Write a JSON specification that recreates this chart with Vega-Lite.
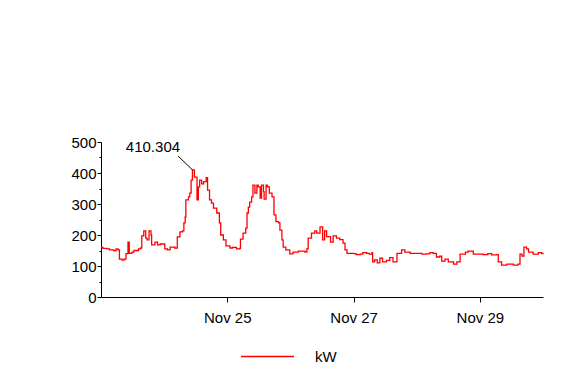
{
  "$schema": "https://vega.github.io/schema/vega-lite/v6.json",
  "width": 442,
  "height": 155,
  "autosize": "none",
  "padding": {"left": 101, "top": 142, "right": 37, "bottom": 83},
  "background": "white",
  "config": {
    "view": {"stroke": null},
    "font": "Liberation Sans",
    "axis": {"grid": false, "domainColor": "black", "tickColor": "black", "labelColor": "black", "labelFont": "Liberation Sans", "labelFontSize": 15, "titleFontSize": 15}
  },
  "datasets": {
    "series": [
      {"t": "2010-11-23T00:00", "kw": 160},
      {"t": "2010-11-23T00:45", "kw": 157},
      {"t": "2010-11-23T02:15", "kw": 155},
      {"t": "2010-11-23T03:15", "kw": 152},
      {"t": "2010-11-23T04:45", "kw": 150},
      {"t": "2010-11-23T05:45", "kw": 155},
      {"t": "2010-11-23T06:30", "kw": 152},
      {"t": "2010-11-23T07:00", "kw": 122},
      {"t": "2010-11-23T08:00", "kw": 119},
      {"t": "2010-11-23T08:45", "kw": 122},
      {"t": "2010-11-23T09:30", "kw": 140},
      {"t": "2010-11-23T10:15", "kw": 177},
      {"t": "2010-11-23T10:45", "kw": 141},
      {"t": "2010-11-23T11:45", "kw": 145},
      {"t": "2010-11-23T12:30", "kw": 150},
      {"t": "2010-11-23T14:15", "kw": 155},
      {"t": "2010-11-23T15:00", "kw": 158},
      {"t": "2010-11-23T15:30", "kw": 197},
      {"t": "2010-11-23T16:15", "kw": 213},
      {"t": "2010-11-23T17:00", "kw": 190},
      {"t": "2010-11-23T17:30", "kw": 184},
      {"t": "2010-11-23T18:15", "kw": 213},
      {"t": "2010-11-23T19:00", "kw": 200},
      {"t": "2010-11-23T19:15", "kw": 168},
      {"t": "2010-11-23T20:30", "kw": 177},
      {"t": "2010-11-23T21:30", "kw": 168},
      {"t": "2010-11-23T22:30", "kw": 171},
      {"t": "2010-11-24T00:15", "kw": 155},
      {"t": "2010-11-24T01:15", "kw": 152},
      {"t": "2010-11-24T02:15", "kw": 161},
      {"t": "2010-11-24T04:00", "kw": 158},
      {"t": "2010-11-24T05:00", "kw": 194},
      {"t": "2010-11-24T06:00", "kw": 210},
      {"t": "2010-11-24T07:00", "kw": 213},
      {"t": "2010-11-24T07:30", "kw": 239},
      {"t": "2010-11-24T08:00", "kw": 258},
      {"t": "2010-11-24T08:15", "kw": 313},
      {"t": "2010-11-24T09:15", "kw": 323},
      {"t": "2010-11-24T09:45", "kw": 335},
      {"t": "2010-11-24T10:15", "kw": 377},
      {"t": "2010-11-24T10:45", "kw": 410.304},
      {"t": "2010-11-24T11:30", "kw": 387},
      {"t": "2010-11-24T12:30", "kw": 313},
      {"t": "2010-11-24T13:00", "kw": 355},
      {"t": "2010-11-24T13:30", "kw": 377},
      {"t": "2010-11-24T14:15", "kw": 365},
      {"t": "2010-11-24T15:00", "kw": 372},
      {"t": "2010-11-24T16:00", "kw": 385},
      {"t": "2010-11-24T16:30", "kw": 345},
      {"t": "2010-11-24T17:15", "kw": 313},
      {"t": "2010-11-24T18:00", "kw": 303},
      {"t": "2010-11-24T18:45", "kw": 287},
      {"t": "2010-11-24T20:00", "kw": 271},
      {"t": "2010-11-24T21:00", "kw": 239},
      {"t": "2010-11-24T21:30", "kw": 200},
      {"t": "2010-11-24T22:30", "kw": 184},
      {"t": "2010-11-24T23:30", "kw": 165},
      {"t": "2010-11-25T01:00", "kw": 158},
      {"t": "2010-11-25T02:00", "kw": 160},
      {"t": "2010-11-25T03:30", "kw": 155},
      {"t": "2010-11-25T04:45", "kw": 157},
      {"t": "2010-11-25T05:00", "kw": 187},
      {"t": "2010-11-25T06:00", "kw": 206},
      {"t": "2010-11-25T07:00", "kw": 222},
      {"t": "2010-11-25T07:30", "kw": 271},
      {"t": "2010-11-25T08:00", "kw": 290},
      {"t": "2010-11-25T08:30", "kw": 306},
      {"t": "2010-11-25T09:15", "kw": 323},
      {"t": "2010-11-25T09:45", "kw": 361},
      {"t": "2010-11-25T10:30", "kw": 335},
      {"t": "2010-11-25T11:15", "kw": 361},
      {"t": "2010-11-25T11:45", "kw": 355},
      {"t": "2010-11-25T12:30", "kw": 319},
      {"t": "2010-11-25T13:00", "kw": 361},
      {"t": "2010-11-25T13:45", "kw": 340},
      {"t": "2010-11-25T14:00", "kw": 316},
      {"t": "2010-11-25T14:45", "kw": 361},
      {"t": "2010-11-25T15:15", "kw": 355},
      {"t": "2010-11-25T16:00", "kw": 335},
      {"t": "2010-11-25T17:00", "kw": 323},
      {"t": "2010-11-25T17:45", "kw": 265},
      {"t": "2010-11-25T18:30", "kw": 243},
      {"t": "2010-11-25T19:30", "kw": 239},
      {"t": "2010-11-25T20:00", "kw": 216},
      {"t": "2010-11-25T20:45", "kw": 184},
      {"t": "2010-11-25T21:15", "kw": 161},
      {"t": "2010-11-25T22:15", "kw": 152},
      {"t": "2010-11-25T23:45", "kw": 139},
      {"t": "2010-11-26T01:00", "kw": 145},
      {"t": "2010-11-26T03:00", "kw": 148},
      {"t": "2010-11-26T05:30", "kw": 145},
      {"t": "2010-11-26T06:15", "kw": 155},
      {"t": "2010-11-26T06:45", "kw": 190},
      {"t": "2010-11-26T08:00", "kw": 206},
      {"t": "2010-11-26T09:15", "kw": 213},
      {"t": "2010-11-26T10:00", "kw": 206},
      {"t": "2010-11-26T11:15", "kw": 226},
      {"t": "2010-11-26T12:15", "kw": 184},
      {"t": "2010-11-26T13:00", "kw": 213},
      {"t": "2010-11-26T13:45", "kw": 195},
      {"t": "2010-11-26T15:15", "kw": 177},
      {"t": "2010-11-26T16:15", "kw": 197},
      {"t": "2010-11-26T17:30", "kw": 190},
      {"t": "2010-11-26T18:45", "kw": 185},
      {"t": "2010-11-26T20:00", "kw": 174},
      {"t": "2010-11-26T20:45", "kw": 152},
      {"t": "2010-11-26T21:30", "kw": 141},
      {"t": "2010-11-27T00:00", "kw": 140},
      {"t": "2010-11-27T01:00", "kw": 137},
      {"t": "2010-11-27T02:30", "kw": 138},
      {"t": "2010-11-27T03:30", "kw": 143},
      {"t": "2010-11-27T05:00", "kw": 141},
      {"t": "2010-11-27T06:00", "kw": 138},
      {"t": "2010-11-27T07:00", "kw": 143},
      {"t": "2010-11-27T07:15", "kw": 113},
      {"t": "2010-11-27T08:00", "kw": 120},
      {"t": "2010-11-27T09:00", "kw": 110},
      {"t": "2010-11-27T10:00", "kw": 125},
      {"t": "2010-11-27T11:00", "kw": 113},
      {"t": "2010-11-27T12:30", "kw": 118},
      {"t": "2010-11-27T13:45", "kw": 127},
      {"t": "2010-11-27T15:00", "kw": 113},
      {"t": "2010-11-27T15:45", "kw": 113},
      {"t": "2010-11-27T16:30", "kw": 141},
      {"t": "2010-11-27T18:15", "kw": 152},
      {"t": "2010-11-27T19:30", "kw": 145},
      {"t": "2010-11-27T21:30", "kw": 141},
      {"t": "2010-11-28T00:00", "kw": 141},
      {"t": "2010-11-28T02:00", "kw": 138},
      {"t": "2010-11-28T03:45", "kw": 139},
      {"t": "2010-11-28T05:00", "kw": 143},
      {"t": "2010-11-28T06:15", "kw": 141},
      {"t": "2010-11-28T07:30", "kw": 129},
      {"t": "2010-11-28T08:45", "kw": 132},
      {"t": "2010-11-28T09:30", "kw": 116},
      {"t": "2010-11-28T10:45", "kw": 122},
      {"t": "2010-11-28T12:00", "kw": 113},
      {"t": "2010-11-28T13:00", "kw": 113},
      {"t": "2010-11-28T14:00", "kw": 106},
      {"t": "2010-11-28T15:15", "kw": 113},
      {"t": "2010-11-28T16:30", "kw": 138},
      {"t": "2010-11-28T18:30", "kw": 145},
      {"t": "2010-11-28T19:30", "kw": 148},
      {"t": "2010-11-28T21:30", "kw": 138},
      {"t": "2010-11-29T01:15", "kw": 137},
      {"t": "2010-11-29T03:00", "kw": 140},
      {"t": "2010-11-29T04:30", "kw": 136},
      {"t": "2010-11-29T06:30", "kw": 137},
      {"t": "2010-11-29T07:00", "kw": 113},
      {"t": "2010-11-29T08:15", "kw": 103},
      {"t": "2010-11-29T10:15", "kw": 106},
      {"t": "2010-11-29T12:45", "kw": 103},
      {"t": "2010-11-29T14:30", "kw": 106},
      {"t": "2010-11-29T15:15", "kw": 138},
      {"t": "2010-11-29T16:00", "kw": 132},
      {"t": "2010-11-29T16:45", "kw": 161},
      {"t": "2010-11-29T17:45", "kw": 155},
      {"t": "2010-11-29T18:30", "kw": 145},
      {"t": "2010-11-29T20:15", "kw": 138},
      {"t": "2010-11-29T22:15", "kw": 143},
      {"t": "2010-11-29T23:30", "kw": 141},
      {"t": "2010-11-30T00:00", "kw": 138}
    ],
    "peak": [
      {"t": "2010-11-24T10:45", "kw": 410.304, "t2": "2010-11-24T05:15", "kw2": 455, "label": "410.304"}
    ]
  },
  "layer": [
    {
      "data": {"name": "series"},
      "mark": {"type": "line", "interpolate": "step-after", "strokeWidth": 1.3},
      "encoding": {
        "x": {
          "field": "t", "type": "temporal",
          "scale": {"domain": ["2010-11-23T00:00", "2010-11-30T00:00"]},
          "axis": {
            "title": null, "format": "%b %d",
            "values": ["2010-11-25T00:00", "2010-11-27T00:00", "2010-11-29T00:00"],
            "tickSize": 5, "labelPadding": 8, "labelFlush": false, "labelOverlap": false
          }
        },
        "y": {
          "field": "kw", "type": "quantitative",
          "scale": {"domain": [0, 500], "nice": false},
          "axis": {
            "title": null,
            "values": [0, 50, 100, 150, 200, 250, 300, 350, 400, 450, 500],
            "labelExpr": "datum.value % 100 === 0 ? datum.label : ''",
            "labelOverlap": false,
            "tickSize": {"condition": {"test": "datum.value % 100 === 0", "value": 4}, "value": 2},
            "labelPadding": 1
          }
        },
        "color": {
          "datum": "kW",
          "scale": {"range": ["#ff0000"]},
          "legend": {
            "title": null, "orient": "none", "legendX": 139, "legendY": 187,
            "symbolType": "stroke", "symbolSize": 2809, "symbolStrokeWidth": 1.3,
            "labelFontSize": 15, "labelFont": "Liberation Sans", "labelOffset": 20, "labelColor": "black",
            "padding": 0
          }
        }
      }
    },
    {
      "data": {"name": "peak"},
      "mark": {"type": "rule", "color": "black", "strokeWidth": 1},
      "encoding": {
        "x": {
          "field": "t", "type": "temporal",
          "axis": {
            "title": null, "format": "%b %d",
            "values": ["2010-11-25T00:00", "2010-11-27T00:00", "2010-11-29T00:00"],
            "tickSize": 5, "labelPadding": 8, "labelFlush": false, "labelOverlap": false
          }
        },
        "y": {
          "field": "kw", "type": "quantitative",
          "axis": {
            "title": null,
            "values": [0, 50, 100, 150, 200, 250, 300, 350, 400, 450, 500],
            "labelExpr": "datum.value % 100 === 0 ? datum.label : ''",
            "labelOverlap": false,
            "tickSize": {"condition": {"test": "datum.value % 100 === 0", "value": 4}, "value": 2},
            "labelPadding": 1
          }
        },
        "x2": {"field": "t2"},
        "y2": {"field": "kw2"}
      }
    },
    {
      "data": {"name": "peak"},
      "mark": {"type": "text", "fontSize": 15, "font": "Liberation Sans", "color": "black", "align": "center", "baseline": "middle"},
      "encoding": {
        "x": {
          "field": "t2", "type": "temporal",
          "axis": {
            "title": null, "format": "%b %d",
            "values": ["2010-11-25T00:00", "2010-11-27T00:00", "2010-11-29T00:00"],
            "tickSize": 5, "labelPadding": 8, "labelFlush": false, "labelOverlap": false
          }
        },
        "y": {
          "field": "kw2", "type": "quantitative",
          "axis": {
            "title": null,
            "values": [0, 50, 100, 150, 200, 250, 300, 350, 400, 450, 500],
            "labelExpr": "datum.value % 100 === 0 ? datum.label : ''",
            "labelOverlap": false,
            "tickSize": {"condition": {"test": "datum.value % 100 === 0", "value": 4}, "value": 2},
            "labelPadding": 1
          }
        },
        "text": {"field": "label"},
        "xOffset": {"value": -25},
        "yOffset": {"value": -9}
      }
    }
  ]
}
